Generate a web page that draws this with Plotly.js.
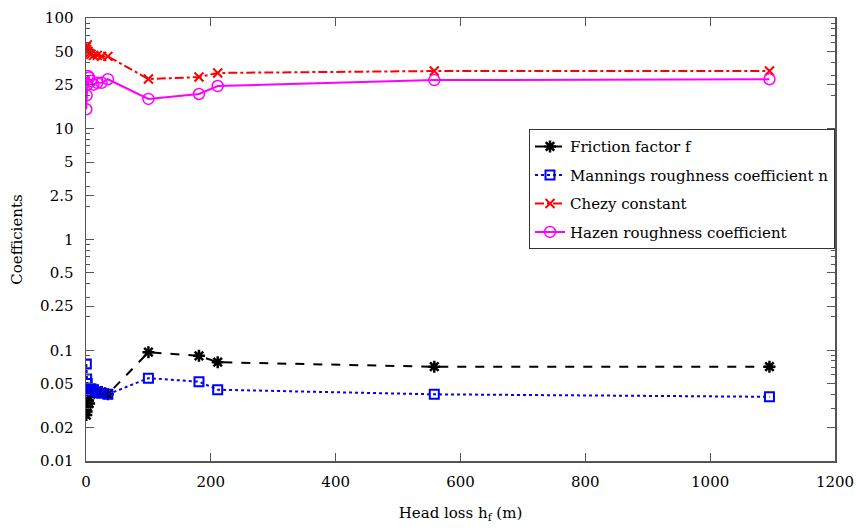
<!DOCTYPE html>
<html>
<head>
<meta charset="utf-8">
<script src="https://cdn.plot.ly/plotly-3.0.1.min.js"></script>
<style>html,body{margin:0;padding:0;background:#fff;}#chart{width:856px;height:531px;}</style>
</head>
<body>
<div id="chart"></div>
<script>
// Head loss values (m)
const headLoss = [0.5, 1, 2, 3, 5, 8, 12, 18, 25, 35, 100, 181, 211, 558, 1095];
// Series values
const frictionFactor = [0.026, 0.028, 0.031, 0.035, 0.033, 0.040, 0.042, 0.043, 0.042, 0.040, 0.096, 0.089, 0.078, 0.071, 0.071];
const manningN      = [0.075, 0.055, 0.050, 0.045, 0.043, 0.045, 0.044, 0.042, 0.041, 0.040, 0.056, 0.052, 0.044, 0.040, 0.038];
const chezyC        = [55, 52, 57, 50, 48, 47, 46, 46, 45, 45, 28.1, 29.3, 31.9, 33.2, 33.2];
const hazenC        = [15, 20, 25, 30, 29, 27, 25, 26, 26, 28, 18.6, 20.6, 24.3, 27.5, 28];
// Tick labels
const yTickVals = [0.01, 0.02, 0.05, 0.1, 0.25, 0.5, 1, 2.5, 5, 10, 25, 50, 100];
const yTickText = ['0.01', '0.02', '0.05', '0.1', '0.25', '0.5', '1', '2.5', '5', '10', '25', '50', '100'];
const xTickVals = [0, 200, 400, 600, 800, 1000, 1200];
const seriesNames = ['Friction factor f', 'Mannings roughness coefficient n', 'Chezy constant', 'Hazen roughness coefficient'];

const font = "DejaVu Serif";
const traces = [
  {x: headLoss, y: frictionFactor, name: seriesNames[0], legendgroup: 'a', mode: 'lines+markers',
   line: {color: '#000', dash: 'dash', width: 2},
   marker: {symbol: 'asterisk-open', size: 10, color: '#000', line: {color: '#000', width: 2.5}}},
  {x: headLoss, y: manningN, name: seriesNames[1], legendgroup: 'b', mode: 'lines+markers',
   line: {color: '#0000ff', dash: 'dot', width: 2},
   marker: {symbol: 'square-open', size: 9, color: '#0000ff', line: {color: '#0000ff', width: 2}}},
  {x: headLoss, y: chezyC, name: seriesNames[2], legendgroup: 'c', mode: 'lines+markers',
   line: {color: '#ff0000', dash: 'dashdot', width: 2},
   marker: {symbol: 'x-thin-open', size: 9, color: '#ff0000', line: {color: '#ff0000', width: 2}}},
  {x: headLoss, y: hazenC, name: seriesNames[3], legendgroup: 'd', mode: 'lines+markers',
   line: {color: '#ff00ff', width: 2},
   marker: {symbol: 'circle-open', size: 11, color: '#ff00ff', line: {color: '#ff00ff', width: 1.5}}}
];

const layout = {
  width: 856, height: 531,
  margin: {l: 86, r: 21, t: 18, b: 70},
  paper_bgcolor: '#fff', plot_bgcolor: '#fff',
  font: {family: font, size: 15, color: '#000'},
  showlegend: true,
  legend: {x: 1, y: 0.749, xanchor: 'right', yanchor: 'top', traceorder: 'grouped',
           bordercolor: '#333', borderwidth: 1, bgcolor: '#fff',
           font: {family: font, size: 15, color: '#000'}, tracegroupgap: 6, itemwidth: 30},
  xaxis: {
    range: [0, 1200], tickvals: xTickVals, ticks: 'inside', ticklen: 8, tickcolor: '#555',
    showline: true, linecolor: '#555', linewidth: 1.5, mirror: 'ticks', showgrid: false, zeroline: false,
    automargin: false,
    ticklabelstandoff: 6, tickfont: {family: font, size: 15},
    title: {text: 'Head loss h<sub>f</sub> (m)', font: {family: font, size: 15}, standoff: 18}
  },
  yaxis: {
    type: 'log', range: [-2, 2], tickvals: yTickVals, ticktext: yTickText,
    ticks: 'inside', ticklen: 8, tickcolor: '#555',
    minor: {ticks: 'inside', ticklen: 4, tickcolor: '#555', showgrid: false, dtick: 'D1'},
    showline: true, linecolor: '#555', linewidth: 1.5, mirror: 'ticks', showgrid: false, zeroline: false,
    automargin: false,
    ticklabelstandoff: 8, tickfont: {family: font, size: 15},
    title: {text: 'Coefficients', font: {family: font, size: 15}, standoff: 14}
  }
};
Plotly.newPlot('chart', traces, layout, {displayModeBar: false, staticPlot: true});
</script>
</body>
</html>
